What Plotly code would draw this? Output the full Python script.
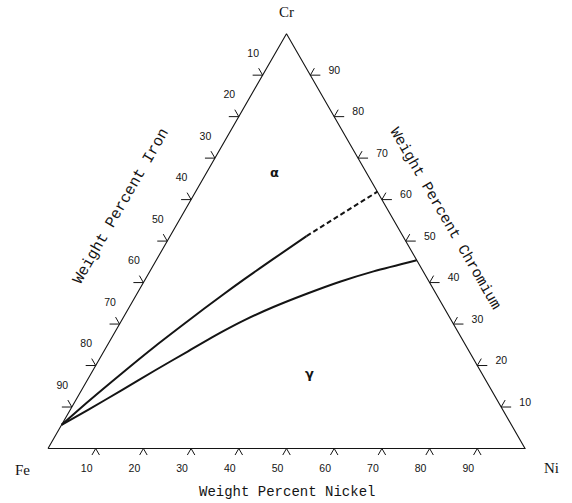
import numpy as np
import plotly.graph_objects as go

# ---------------- data (weight percent) ----------------
tick_values = [10, 20, 30, 40, 50, 60, 70, 80, 90]
tick_labels = ["10", "20", "30", "40", "50", "60", "70", "80", "90"]

# alpha / alpha+gamma boundary (solid part), then dashed extrapolation
upper_ni = [0.0, 2.8, 6.4, 10.1, 14.0, 18.0, 20.8, 24.4, 28.6]
upper_cr = [5.7, 11.4, 18.1, 24.6, 30.8, 36.9, 40.9, 45.7, 51.2]
dashed_ni = [28.6, 38.1]
dashed_cr = [51.2, 61.9]
# gamma / alpha+gamma boundary
lower_ni = [0.0, 3.8, 8.4, 13.0, 17.7, 22.4, 25.8, 30.2, 35.6, 41.1, 46.9, 54.6]
lower_cr = [5.7, 9.4, 14.0, 18.8, 23.5, 28.1, 31.0, 34.1, 37.3, 40.2, 42.7, 45.4]

phase_labels = ["α", "γ"]
phase_ni = [14.4, 45.9]
phase_cr = [66.2, 17.8]

S3 = np.sqrt(3) / 2
PX = 477.0  # pixels per unit along x
PY = 479.0  # pixels per unit along y


def proj(ni, cr):
    ni = np.asarray(ni, dtype=float) / 100.0
    cr = np.asarray(cr, dtype=float) / 100.0
    return ni + cr / 2.0, cr * S3


INK = "#141414"
fig = go.Figure()

# triangle frame: Fe -> Ni -> Cr -> Fe
fx, fy = proj([0, 100, 0, 0], [0, 0, 100, 0])
fig.add_trace(go.Scatter(x=fx, y=fy, mode="lines", line=dict(color=INK, width=1.1),
                         hoverinfo="skip", showlegend=False))

# ticks: two outward strokes along the ternary grid directions
a = 10 / PX    # horizontal stroke
b = 8 / PX     # slanted stroke (side edges)
bb = 7.5 / PX  # slanted strokes (base)
tx, ty = [], []
for v in tick_values:
    # left edge (Fe = v): Cr = 100 - v, Ni = 0
    c = 100 - v
    px_, py_ = proj(0, c)
    hx, hy = proj(-a * 100, c)
    dx, dy = proj(-b * 100, c + b * 100)
    tx += [hx, px_, dx, None]
    ty += [hy, py_, dy, None]
    # right edge (Cr = v): Ni = 100 - v
    px_, py_ = proj(100 - v, v)
    hx, hy = proj(100 - v + a * 100, v)
    dx, dy = proj(100 - v, v + b * 100)
    tx += [hx, px_, dx, None]
    ty += [hy, py_, dy, None]
    # base (Ni = v): Cr = 0
    px_, py_ = proj(v, 0)
    lx, ly = proj(v, -bb * 100)
    rx, ry = proj(v + bb * 100, -bb * 100)
    tx += [lx, px_, rx, None]
    ty += [ly, py_, ry, None]
fig.add_trace(go.Scatter(x=tx, y=ty, mode="lines", line=dict(color=INK, width=1),
                         hoverinfo="skip", showlegend=False))

# tick labels
tick_font = dict(family="Liberation Sans, Arial, sans-serif", size=10.5, color=INK)
lx, ly = proj([0] * 9, [100 - v for v in tick_values])
fig.add_trace(go.Scatter(x=lx - 9.5 / PX, y=ly + 21 / PY, mode="text", text=tick_labels,
                         textfont=tick_font, hoverinfo="skip", showlegend=False))
rx, ry = proj([100 - v for v in tick_values], tick_values)
fig.add_trace(go.Scatter(x=rx + 24 / PX, y=ry + 4 / PY, mode="text", text=tick_labels,
                         textfont=tick_font, hoverinfo="skip", showlegend=False))
bx, by = proj(tick_values, [0] * 9)
fig.add_trace(go.Scatter(x=bx - 9 / PX, y=by - 20.5 / PY, mode="text", text=tick_labels,
                         textfont=tick_font, hoverinfo="skip", showlegend=False))

# phase boundaries
ux, uy = proj(upper_ni, upper_cr)
fig.add_trace(go.Scatter(x=ux, y=uy, mode="lines", line=dict(color=INK, width=2, shape="spline", smoothing=0.8),
                         hoverinfo="skip", showlegend=False))
dx_, dy_ = proj(dashed_ni, dashed_cr)
fig.add_trace(go.Scatter(x=dx_, y=dy_, mode="lines", line=dict(color=INK, width=2, dash="5px,3px"),
                         hoverinfo="skip", showlegend=False))
wx, wy = proj(lower_ni, lower_cr)
fig.add_trace(go.Scatter(x=wx, y=wy, mode="lines", line=dict(color=INK, width=2, shape="spline", smoothing=0.8),
                         hoverinfo="skip", showlegend=False))

# phase labels
gx, gy = proj(phase_ni, phase_cr)
fig.add_trace(go.Scatter(x=gx, y=gy, mode="text", text=[f"<b>{t}</b>" for t in phase_labels],
                         textfont=dict(family="DejaVu Sans, sans-serif", size=13, color=INK),
                         hoverinfo="skip", showlegend=False))

# vertex labels
vfont = dict(family="Liberation Serif, Times New Roman, serif", size=15, color=INK)
vx, vy = proj([0, 100, 0], [0, 0, 100])
annotations = [
    dict(x=vx[0] - 26 / PX, y=vy[0] - 21 / PY, text="Fe", font=vfont),
    dict(x=vx[1] + 26 / PX, y=vy[1] - 19.5 / PY, text="Ni", font=vfont),
    dict(x=vx[2], y=vy[2] + 22 / PY, text="Cr", font=vfont),
]

# axis titles
tfont = dict(family="Liberation Mono, Courier New, monospace", size=14, color=INK)
mx, my = proj(50, 0)
annotations.append(dict(x=mx, y=my - 43.5 / PY, text="Weight Percent Nickel", font=tfont))
ix, iy = proj(0, 51.5)
annotations.append(dict(x=ix - 57 * S3 / PX, y=iy + 57 * 0.5 / PY, text="Weight Percent Iron",
                        font=dict(tfont, size=15.5), textangle=-60))
cx, cy = proj(50, 50)
annotations.append(dict(x=cx + 44.5 * S3 / PX, y=cy + 44.5 * 0.5 / PY, text="Weight Percent Chromium",
                        font=dict(tfont, size=15), textangle=60))

for an in annotations:
    an.update(xref="x", yref="y", showarrow=False, xanchor="center", yanchor="middle")

W, H = 572, 503
x0 = -48 / PX
y0 = 448.5 / PY
fig.update_layout(
    width=W, height=H, autosize=False,
    margin=dict(l=0, r=0, t=0, b=0),
    paper_bgcolor="white", plot_bgcolor="white",
    xaxis=dict(range=[x0, x0 + W / PX], visible=False, fixedrange=True),
    yaxis=dict(range=[y0 - H / PY, y0], visible=False, fixedrange=True),
    annotations=annotations,
    showlegend=False,
)

fig.write_html("out.html", config={"displayModeBar": False},
               post_script="document.body.style.margin='0px';document.body.style.overflow='hidden';")
